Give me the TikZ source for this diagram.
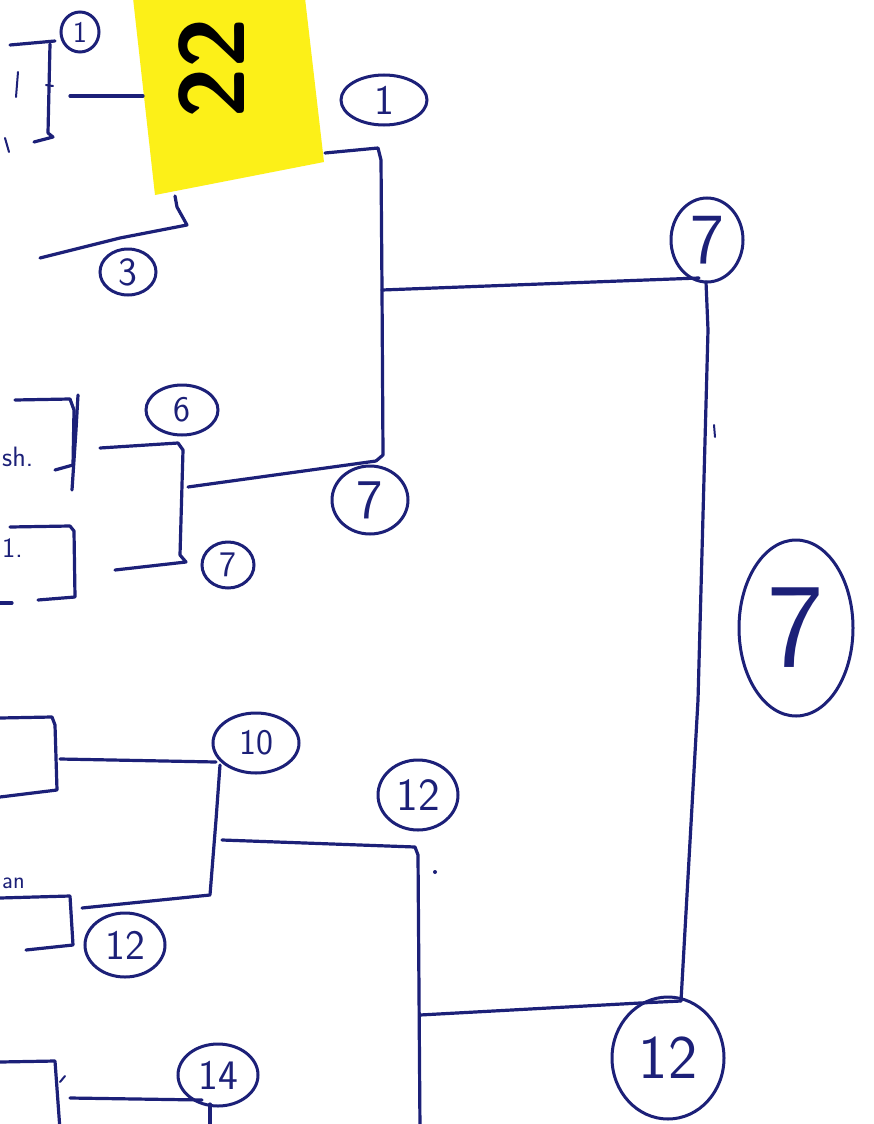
\documentclass[tikz,border=0pt]{standalone}
\usepackage{fontspec}
\usetikzlibrary{shapes.geometric}
\definecolor{ink}{RGB}{28,32,120}
\definecolor{note}{RGB}{252,240,24}
\tikzset{
  pen/.style={draw=ink, line width=3.2pt, line cap=round, line join=round},
  thinpen/.style={draw=ink, line width=2pt, line cap=round},
  score/.style={ellipse, draw=ink, line width=3pt, text=ink, inner sep=0pt},
  fs/.style={font=\sffamily\fontsize{#1}{#1}\selectfont},
  scrap/.style={text=ink, anchor=west, inner sep=0pt},
}
\begin{document}
\begin{tikzpicture}[x=1pt,y=-1pt]
\useasboundingbox (0,0) rectangle (874,1124);
\fill[white] (0,0) rectangle (874,1124);

% sticky note
\fill[note] (133,-2) -- (305,-2) -- (324,162) -- (155,195) -- cycle;
\node[rotate=90, font=\sffamily\bfseries\fontsize{92}{92}\selectfont, text=black] (num) at (212,68) {22};

% score ellipses
\node[score, fs=30, minimum width=38, minimum height=40] (s1a) at (80,32) {1};
\node[score, fs=40, minimum width=56, minimum height=46] (s3) at (128,272) {3};
\node[score, fs=42, minimum width=86, minimum height=50] (s1b) at (384,100) {1};
\node[score, fs=72, minimum width=72, minimum height=84] (s7top) at (707,240) {7};
\node[score, fs=36, minimum width=72, minimum height=50] (s6) at (182,410) {6};
\node[score, fs=36, minimum width=52, minimum height=46] (s7s) at (228,565) {7};
\node[score, fs=56, minimum width=76, minimum height=68] (s7m) at (370,500) {7};
\node[score, fs=120, minimum width=114, minimum height=176] (s7big) at (796,628) {7};
\node[score, fs=36, minimum width=86, minimum height=60] (s10) at (256,743) {10};
\node[score, fs=46, minimum width=80, minimum height=70] (s12a) at (418,795) {12};
\node[score, fs=42, minimum width=80, minimum height=64] (s12b) at (125,945) {12};
\node[score, fs=42, minimum width=80, minimum height=62] (s14) at (218,1075) {14};
\node[score, fs=62, minimum width=112, minimum height=122] (s12c) at (668,1058) {12};

% text scraps at the left edge
\node[scrap, fs=28] (t1) at (2,457) {sh.};
\node[scrap, fs=28] (t2) at (2,548) {1.};
\node[scrap, fs=24] (t3) at (2,883) {an};

% connector end points
\coordinate (a0) at (10,45);
\coordinate (a1) at (55,41);
\coordinate (b0) at (70,96);
\coordinate (b1) at (143,96);
\coordinate (c0) at (175,196);
\coordinate (c1) at (40,258);
\coordinate (d0) at (325,153);
\coordinate (d1) at (376,461);
\coordinate (dm) at (382,290);
\coordinate (e1) at (699,278);
\coordinate (f0) at (706,282);
\coordinate (f1) at (681,1001);
\coordinate (g0) at (100,448);
\coordinate (g1) at (115,570);
\coordinate (gm) at (188,487);
\coordinate (h0) at (60,759);
\coordinate (h1) at (216,762);
\coordinate (i1) at (82,908);
\coordinate (im) at (222,840);
\coordinate (j0) at (420,1015);
\coordinate (k0) at (70,1098);
\coordinate (k1) at (202,1100);

% top-left bracket
\draw[pen] (a0) -- (a1);
\draw[pen] (50,44) -- (48,133) -- (53,137) -- (34,142);
\draw[thinpen] (18,72) -- (16,97);
\draw[thinpen] (5,138) -- (9,152);
\draw[thinpen] (46,85) -- (53,86);
\draw[pen] (b0) -- (b1);
\draw[pen] (c0) -- (177,207) -- (187,225) -- (120,238) -- (c1);

% top main bracket
\draw[pen] (d0) -- (378,148) -- (381,160) -- (dm) -- (383,455) -- (d1);
\draw[pen] (gm) -- (d1);
\draw[pen] (dm) -- (e1);
\draw[pen] (f0) -- (708,330) -- (698,700) -- (f1);
\draw[pen] (j0) -- (640,1003) -- (f1);

% middle bracket
\draw[pen] (15,400) -- (70,399) -- (74,410) -- (73,465) -- (55,470);
\draw[pen] (78,395) -- (76,430) -- (72,490);
\draw[pen] (g0) -- (178,443) -- (183,450) -- (180,555) -- (186,562) -- (g1);
\draw[pen] (10,527) -- (70,526) -- (74,531) -- (75,597) -- (38,600);
\draw[pen] (0,603) -- (12,603);

% bottom bracket
\draw[pen] (0,718) -- (52,717) -- (55,725) -- (57,790) -- (0,797);
\draw[pen] (h0) -- (h1);
\draw[pen] (220,765) -- (216,820) -- (210,895) -- (i1);
\draw[pen] (0,898) -- (70,896) -- (73,945) -- (26,950);
\draw[pen] (im) -- (415,847) -- (418,855) -- (420,1130);
\draw[pen] (0,1062) -- (55,1061) -- (60,1130);
\draw[thinpen] (60,1082) -- (65,1076);
\draw[pen] (k0) -- (k1);
\draw[pen] (210,1104) -- (210,1130);

% small marks
\fill[ink] (435,872) circle (2);
\draw[thinpen] (714,425) -- (715,437);
\end{tikzpicture}
\end{document}
